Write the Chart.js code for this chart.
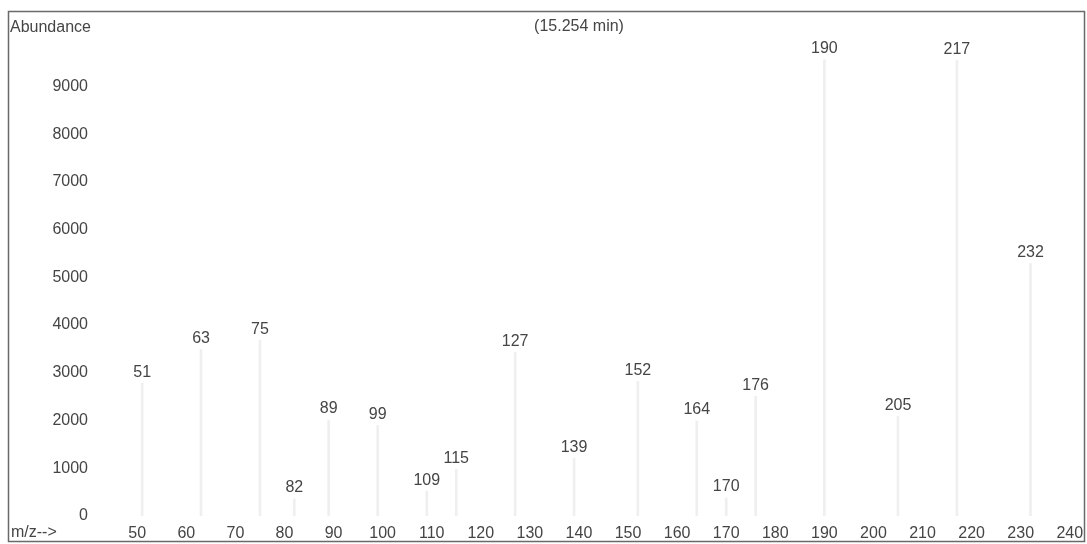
<html>
<head>
<meta http-equiv="content-type" content="text/html; charset=UTF-8" />
<script src="https://cdn.jsdelivr.net/npm/chart.js@4.4.1/dist/chart.umd.min.js"></script>
<style>
  html, body { margin: 0; padding: 0; background: #fff; }
  #wrap { width: 1087px; height: 544px; position: relative; }
</style>
</head>
<body>
<div id="wrap"><canvas id="spectrum"></canvas></div>
<script>
// peaks (m/z, abundance)
var mz = [51, 63, 75, 82, 89, 99, 109, 115, 127, 139, 152, 164, 170, 176, 190, 205, 217, 232];
var abundance = [2780, 3490, 3680, 360, 2010, 1900, 520, 980, 3430, 1210, 2820, 1990, 380, 2510, 9560, 2090, 9540, 5290];
var xTicks = [50, 60, 70, 80, 90, 100, 110, 120, 130, 140, 150, 160, 170, 180, 190, 200, 210, 220, 230, 240];
var yTicks = [0, 1000, 2000, 3000, 4000, 5000, 6000, 7000, 8000, 9000];
var title = '(15.254 min)';

var FONT = '"Liberation Sans", Arial, sans-serif';
var TXT = '#454545';

var points = [];
for (var i = 0; i < mz.length; i++) points.push({x: mz[i], y: abundance[i]});

// peak labels + frame + corner texts
var decor = {
  id: 'decor',
  afterDatasetsDraw: function(chart) {
    var ctx = chart.ctx;
    var xs = chart.scales.x, ys = chart.scales.y;
    ctx.save();
    ctx.font = '16px ' + FONT;
    ctx.fillStyle = TXT;
    ctx.textAlign = 'center';
    ctx.textBaseline = 'bottom';
    for (var i = 0; i < mz.length; i++) {
      ctx.fillText(String(mz[i]), xs.getPixelForValue(mz[i]), ys.getPixelForValue(abundance[i]) - 3);
    }
    ctx.textBaseline = 'middle';
    ctx.fillText(title, 579, 27);
    ctx.textAlign = 'left';
    ctx.fillText('Abundance', 10, 28);
    ctx.fillText('m/z-->', 11, 533);
    ctx.strokeStyle = '#6a6a6a';
    ctx.lineWidth = 1.5;
    ctx.strokeRect(8.5, 11.5, 1076, 530);
    ctx.restore();
  }
};

function noPad(s) {
  s.paddingLeft = 0; s.paddingRight = 0; s.paddingTop = 0; s.paddingBottom = 0;
}

new Chart(document.getElementById('spectrum'), {
  type: 'bar',
  data: {
    datasets: [{
      data: points,
      backgroundColor: '#efefef',
      borderWidth: 0,
      barThickness: 2
    }]
  },
  options: {
    responsive: true,
    maintainAspectRatio: false,
    animation: false,
    layout: { padding: { left: 8, right: 2, top: 12, bottom: 2 } },
    plugins: { legend: { display: false }, tooltip: { enabled: false } },
    scales: {
      x: {
        type: 'linear',
        offset: false,
        min: 41.6,
        max: 243.1,
        grid: { display: false, drawTicks: false, offset: false },
        border: { display: false },
        afterBuildTicks: function(s) { s.ticks = xTicks.map(function(v) { return {value: v}; }); },
        afterFit: function(s) { s.height = 26; noPad(s); },
        ticks: { autoSkip: false, maxRotation: 0, padding: 8, color: TXT, font: { family: FONT, size: 16 } }
      },
      y: {
        min: 0,
        max: 10560,
        grid: { display: false, drawTicks: false },
        border: { display: false },
        afterBuildTicks: function(s) { s.ticks = yTicks.map(function(v) { return {value: v}; }); },
        afterFit: function(s) { s.width = 88; noPad(s); },
        ticks: {
          padding: 8, color: TXT, font: { family: FONT, size: 16 },
          callback: function(v) { return String(v); }
        }
      }
    }
  },
  plugins: [decor]
});
</script>
</body>
</html>
